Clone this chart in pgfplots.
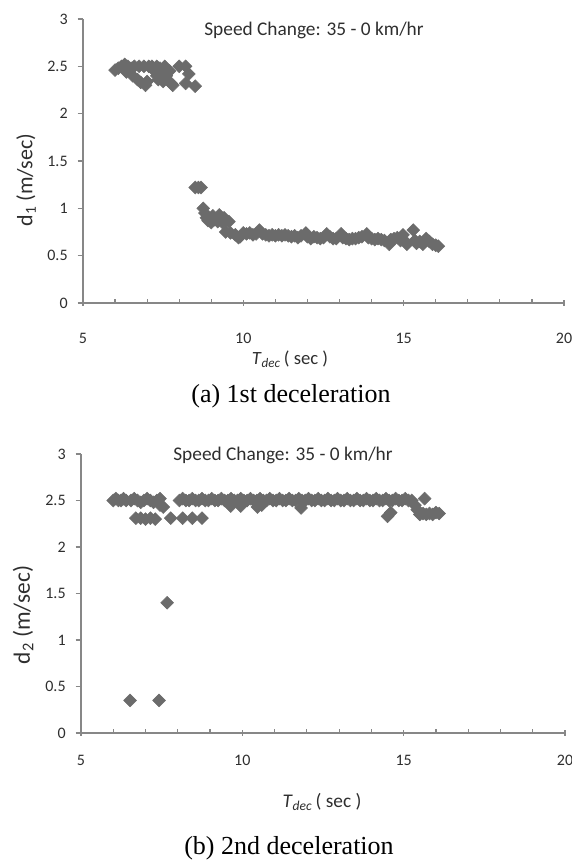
\documentclass[border=0pt]{standalone}
\usepackage{fontspec}
\setmainfont{Carlito}
\newfontfamily\timesfont{Liberation Serif}
\usepackage{pgfplots}
\pgfplotsset{compat=1.18}

\definecolor{axgray}{HTML}{878787}
\definecolor{mkgray}{HTML}{6B6B6B}
\definecolor{txt}{HTML}{2E2E2E}

% 1 px of the reference = 0.75pt
\newcommand{\px}[2]{({#1*0.75pt},{#2*0.75pt})}

\pgfplotsset{
  decel/.style={
    scale only axis,
    anchor=south west,
    xmin=5, xmax=20, ymin=0, ymax=3,
    axis x line=bottom, axis y line=left,
    axis line style={-, axgray, line width=1.1pt},
    xtick={5,10,15,20},
    minor xtick={6,7,8,9,11,12,13,14,16,17,18,19},
    ytick={0,0.5,1,1.5,2,2.5,3},
    tick align=outside,
    major tick length=4pt,
    minor tick length=3pt,
    tick style={axgray, line width=0.9pt},
    major x tick style={yshift=2pt},
    minor x tick style={yshift=3pt},
    /pgf/number format/assume math mode=true,
    tick label style={font=\fontsize{12}{14}\selectfont, text=txt},
    yticklabel style={anchor=east, xshift=-4pt},
    xticklabel style={anchor=center},
    clip=false,
  },
  dmark/.style={only marks, mark=square*, mark size=3.4pt,
    mark options={rotate=45, fill=mkgray, draw=mkgray}},
}

\begin{document}
\begin{tikzpicture}
\useasboundingbox (0,0) rectangle (428.25pt,646.5pt);

% (a) first deceleration
\begin{axis}[decel, at={(62.25pt,419.25pt)}, width=360.75pt, height=213pt,
  xticklabel style={yshift=-22.5pt}]
\addplot[dmark] coordinates {
 (6.0,2.46) (6.1,2.48) (6.2,2.5) (6.3,2.52) (6.35,2.44) (6.4,2.5) (6.5,2.48)
 (6.55,2.4) (6.6,2.5) (6.7,2.36) (6.75,2.5) (6.8,2.33) (6.9,2.5) (6.95,2.3)
 (7.0,2.34) (7.05,2.5) (7.15,2.5) (7.2,2.46) (7.3,2.5) (7.3,2.4) (7.35,2.36)
 (7.4,2.48) (7.5,2.42) (7.5,2.34) (7.55,2.5) (7.6,2.4) (7.7,2.45) (7.75,2.32)
 (7.8,2.3) (8.0,2.5) (8.2,2.5) (8.2,2.32) (8.3,2.42) (8.5,2.29)
 (8.5,1.22) (8.6,1.22) (8.68,1.22)
 (8.75,1.0) (8.8,0.95) (8.85,0.9) (8.9,0.87) (9.0,0.85) (9.05,0.92) (9.1,0.88)
 (9.2,0.86) (9.25,0.93) (9.3,0.9) (9.35,0.85) (9.4,0.9) (9.45,0.87) (9.55,0.86)
 (9.45,0.75) (9.6,0.74) (9.75,0.72) (9.85,0.69)
 (9.9,0.7) (10.0,0.74) (10.1,0.73) (10.2,0.74) (10.3,0.72) (10.4,0.73) (10.5,0.77)
 (10.6,0.73) (10.7,0.72) (10.8,0.71) (10.9,0.72) (11.0,0.71) (11.1,0.72) (11.2,0.71)
 (11.3,0.72) (11.4,0.71) (11.5,0.7) (11.6,0.71) (11.7,0.69) (11.8,0.71) (11.95,0.74)
 (12.0,0.7) (12.1,0.68) (12.2,0.7) (12.3,0.69) (12.4,0.68) (12.5,0.69) (12.6,0.73)
 (12.7,0.7) (12.8,0.68) (12.9,0.68) (13.05,0.73) (13.1,0.69) (13.2,0.68) (13.3,0.67)
 (13.4,0.68) (13.5,0.68) (13.6,0.69) (13.7,0.7) (13.85,0.73) (13.9,0.69) (14.0,0.68)
 (14.1,0.67) (14.2,0.68) (14.3,0.67) (14.4,0.66) (14.55,0.62) (14.6,0.67) (14.7,0.68)
 (14.8,0.69) (14.9,0.66) (14.98,0.72) (15.05,0.65) (15.1,0.62) (15.3,0.77) (15.35,0.66)
 (15.4,0.63) (15.5,0.65) (15.6,0.62) (15.7,0.68) (15.8,0.65) (15.9,0.62) (16.0,0.61)
 (16.08,0.6)
};
\end{axis}

% (b) second deceleration
\begin{axis}[decel, at={(60.75pt,96.75pt)}, width=363pt, height=209.25pt,
  xticklabel style={yshift=-16.5pt}]
\addplot[dmark] coordinates {
 (6.0,2.5) (6.08,2.52) (6.16,2.5) (6.24,2.5) (6.32,2.52) (6.4,2.5) (6.55,2.5)
 (6.65,2.52) (6.75,2.5) (6.85,2.48) (6.95,2.5) (7.05,2.52) (7.15,2.5) (7.25,2.48)
 (7.35,2.5) (7.45,2.52) (7.45,2.45) (7.55,2.43)
 (8.05,2.5) (8.15,2.52) (8.25,2.5) (8.35,2.5) (8.45,2.52) (8.55,2.5) (8.65,2.5)
 (8.75,2.52) (8.85,2.5) (8.95,2.5) (9.05,2.52) (9.15,2.5) (9.25,2.5) (9.35,2.52)
 (9.45,2.5) (9.55,2.5) (9.65,2.52) (9.75,2.5) (9.85,2.5) (9.95,2.52) (10.05,2.5)
 (10.15,2.5) (10.25,2.52) (10.35,2.5) (10.45,2.5) (10.55,2.52) (10.65,2.5) (10.75,2.5)
 (10.85,2.52) (10.95,2.5) (11.05,2.5) (11.15,2.52) (11.25,2.5) (11.35,2.5) (11.45,2.52)
 (11.55,2.5) (11.65,2.5) (11.75,2.52) (11.85,2.5) (11.95,2.5) (12.05,2.52) (12.15,2.5)
 (12.25,2.5) (12.35,2.52) (12.45,2.5) (12.55,2.5) (12.65,2.52) (12.75,2.5) (12.85,2.5)
 (12.95,2.52) (13.05,2.5) (13.15,2.5) (13.25,2.52) (13.35,2.5) (13.45,2.5) (13.55,2.52)
 (13.65,2.5) (13.75,2.5) (13.85,2.52) (13.95,2.5) (14.05,2.5) (14.15,2.52) (14.25,2.5)
 (14.35,2.5) (14.45,2.52) (14.55,2.5) (14.65,2.5) (14.75,2.52) (14.85,2.5) (14.95,2.5)
 (15.05,2.52) (15.15,2.5) (15.25,2.5)
 (9.64,2.44) (9.95,2.44) (10.47,2.43) (10.6,2.45) (11.82,2.42)
 (15.35,2.45) (15.42,2.4) (15.5,2.35) (15.6,2.36) (15.7,2.35) (15.8,2.36) (15.9,2.35)
 (16.0,2.37) (16.1,2.36) (15.65,2.52)
 (6.7,2.31) (6.85,2.31) (7.0,2.3) (7.15,2.31) (7.3,2.3) (7.78,2.31) (8.15,2.31)
 (8.45,2.31) (8.75,2.31) (14.5,2.33) (14.6,2.37)
 (6.52,0.35) (7.42,0.35) (7.67,1.4)
};
\end{axis}

% titles, axis labels and captions
\node[text=txt] at \px{314}{832} {\fontsize{14.5}{16}\selectfont Speed Change: 35 - 0 km/hr};
\node[text=txt, rotate=90] at \px{26}{682} {\fontsize{16.5}{18}\selectfont d\textsubscript{1} (m/sec)};
\node[text=txt] at \px{290}{503} {\fontsize{14}{16}\selectfont\textit{T}\textsubscript{\textit{dec}}\,( sec )};
\node at \px{291}{466} {\timesfont\fontsize{19.5}{22}\selectfont (a) 1st deceleration};

\node[text=txt] at \px{283}{407} {\fontsize{14.5}{16}\selectfont Speed Change: 35 - 0 km/hr};
\node[text=txt, rotate=90] at \px{23}{247} {\fontsize{17.5}{19}\selectfont d\textsubscript{2} (m/sec)};
\node[text=txt] at \px{322}{60} {\fontsize{14.5}{16}\selectfont\textit{T}\textsubscript{\textit{dec}}\,( sec )};
\node at \px{289}{14} {\timesfont\fontsize{19.5}{22}\selectfont (b) 2nd deceleration};
\end{tikzpicture}
\end{document}
